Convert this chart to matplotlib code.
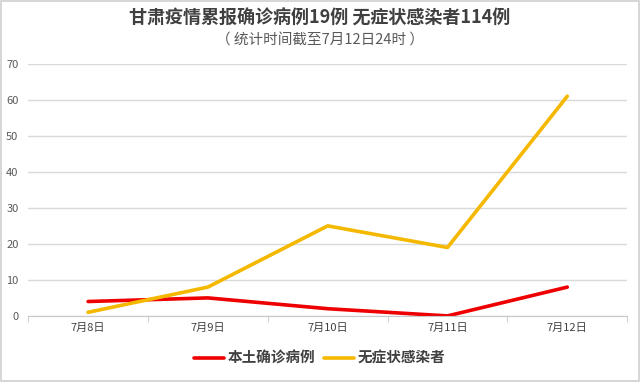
import matplotlib
matplotlib.use("Agg")
import matplotlib.pyplot as plt
from matplotlib.patches import Rectangle

plt.rcParams['font.family'] = ['Noto Sans CJK SC', 'DejaVu Sans']

dates = ["7月8日", "7月9日", "7月10日", "7月11日", "7月12日"]
local_confirmed = [4, 5, 2, 0, 8]
asymptomatic = [1, 8, 25, 19, 61]
yticks = [0, 10, 20, 30, 40, 50, 60, 70]

fig = plt.figure(figsize=(6.4, 3.82), dpi=100)
fig.patches.append(Rectangle((0.002, 0.003), 0.996, 0.994, transform=fig.transFigure,
                             fill=False, edgecolor='#d0d0d0', linewidth=1.2))
ax = fig.add_axes([0.044, 0.173, 0.936, 0.66])

x = list(range(len(dates)))
ax.plot(x, local_confirmed, color='#ee0000', linewidth=2.6, label='本土确诊病例', solid_capstyle='round')
ax.plot(x, asymptomatic, color='#f5b800', linewidth=2.6, label='无症状感染者', solid_capstyle='round')

ax.set_xlim(-0.5, len(dates) - 0.5)
ax.set_ylim(0, 70)
ax.set_yticks(yticks)
ax.set_yticklabels([str(v) for v in yticks], fontsize=8, color='#595959')
ax.set_xticks(x)
ax.set_xticklabels(dates, fontsize=8, color='#404040')
ax.tick_params(axis='x', length=0, pad=5)
ax.tick_params(axis='y', length=0, pad=7)
ax.set_xticks([i - 0.5 for i in range(len(dates) + 1)], minor=True)
ax.tick_params(axis='x', which='minor', length=4, color='#c8c8c8')
ax.grid(axis='y', color='#d9d9d9', linewidth=1)
ax.set_axisbelow(True)
for s in ['top', 'right', 'left']:
    ax.spines[s].set_visible(False)
ax.spines['bottom'].set_color('#c8c8c8')

fig.text(0.5, 0.952, "甘肃疫情累报确诊病例19例 无症状感染者114例", ha='center', va='center',
         fontsize=13, fontweight='bold', color='#404040')
fig.text(0.5, 0.893, "（ 统计时间截至7月12日24时 ）", ha='center', va='center',
         fontsize=10.5, color='#595959')

fig.legend(loc='center', bbox_to_anchor=(0.5, 0.063), ncol=2, frameon=False,
           handlelength=2.0, handletextpad=0.3, columnspacing=0.6,
           labelcolor='#404040', prop={'weight': 'bold', 'size': 10.5})

fig.savefig("out.png", dpi=100)
